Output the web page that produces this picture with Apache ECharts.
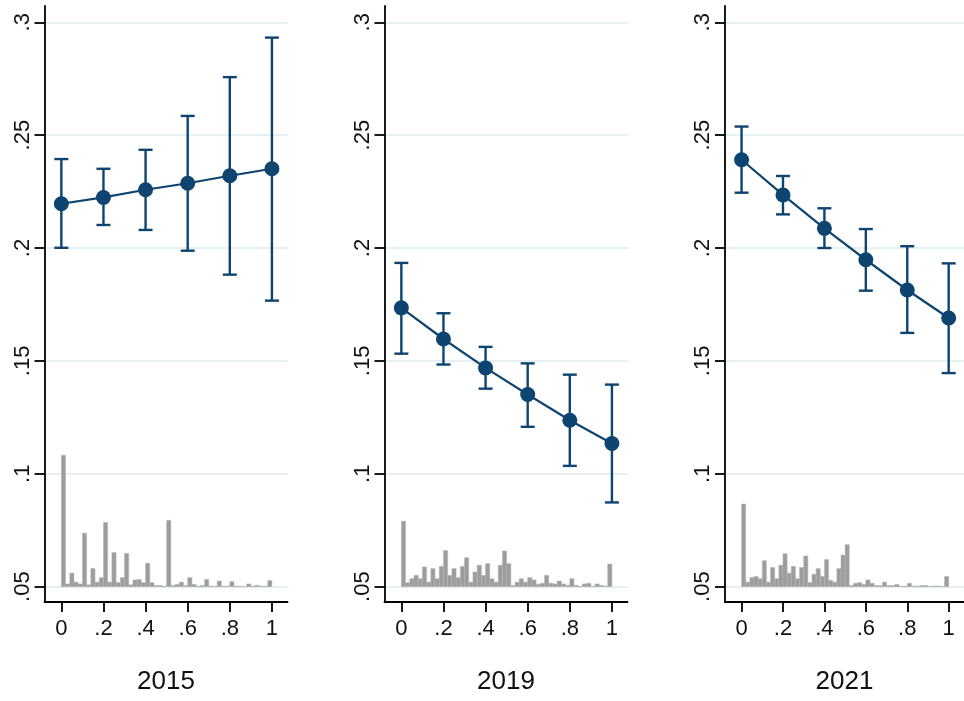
<!DOCTYPE html>
<html>
<head>
<meta charset="utf-8">
<script src="https://cdn.jsdelivr.net/npm/echarts@6/dist/echarts.min.js"></script>
<style>
html, body { margin: 0; padding: 0; background: #fff; }
#chart { width: 964px; height: 701px; }
</style>
</head>
<body>
<div id="chart"></div>
<script>
// panel titles
const years = ['2015', '2019', '2021'];

// x positions of the estimates and axis ticks
const xPoints = [0, 0.2, 0.4, 0.6, 0.8, 1];
const xTicks = [0, 0.2, 0.4, 0.6, 0.8, 1];
const yTicks = [0.05, 0.1, 0.15, 0.2, 0.25, 0.3];

// point estimates and confidence bounds
const est2015 = [0.2196, 0.2224, 0.2258, 0.2287, 0.2320, 0.2351];
const lo2015  = [0.2001, 0.2102, 0.2080, 0.1988, 0.1882, 0.1767];
const hi2015  = [0.2394, 0.2351, 0.2435, 0.2585, 0.2757, 0.2932];

const est2019 = [0.1735, 0.1597, 0.1469, 0.1351, 0.1237, 0.1134];
const lo2019  = [0.1532, 0.1484, 0.1377, 0.1208, 0.1035, 0.0873];
const hi2019  = [0.1934, 0.1711, 0.1562, 0.1489, 0.1439, 0.1395];

const est2021 = [0.2391, 0.2235, 0.2087, 0.1948, 0.1814, 0.1690];
const lo2021  = [0.2245, 0.2149, 0.2000, 0.1811, 0.1624, 0.1446];
const hi2021  = [0.2538, 0.2319, 0.2176, 0.2084, 0.2008, 0.1932];

// histogram of the x variable (bin width .02), drawn as bar tops above .05
const histBase = 0.05;
const histBin = 0.02;
const hist2015 = [
  0.1082, 0.0512, 0.0560, 0.0520, 0.0512, 0.0737, 0.0508, 0.0581, 0.0520, 0.0540,
  0.0785, 0.0520, 0.0651, 0.0518, 0.0540, 0.0647, 0.0508, 0.0530, 0.0532, 0.0518,
  0.0604, 0.0518, 0.0505, 0.0505, 0.0502, 0.0794, 0.0505, 0.0510, 0.0520, 0.0505,
  0.0540, 0.0510, 0.0502, 0.0505, 0.0532, 0.0502, 0.0502, 0.0525, 0.0502, 0.0502,
  0.0522, 0.0502, 0.0502, 0.0500, 0.0512, 0.0502, 0.0506, 0.0502, 0.0502, 0.0527
];
const hist2019 = [
  0.0790, 0.0518, 0.0535, 0.0550, 0.0535, 0.0587, 0.0520, 0.0580, 0.0535, 0.0590,
  0.0660, 0.0550, 0.0580, 0.0540, 0.0590, 0.0628, 0.0520, 0.0565, 0.0595, 0.0550,
  0.0602, 0.0535, 0.0520, 0.0595, 0.0658, 0.0602, 0.0505, 0.0520, 0.0535, 0.0520,
  0.0540, 0.0530, 0.0510, 0.0515, 0.0550, 0.0515, 0.0512, 0.0525, 0.0512, 0.0506,
  0.0535, 0.0506, 0.0502, 0.0512, 0.0515, 0.0502, 0.0512, 0.0506, 0.0502, 0.0600
];
const hist2021 = [
  0.0866, 0.0520, 0.0540, 0.0545, 0.0535, 0.0615, 0.0520, 0.0585, 0.0535, 0.0595,
  0.0646, 0.0560, 0.0590, 0.0535, 0.0585, 0.0636, 0.0518, 0.0555, 0.0580, 0.0545,
  0.0620, 0.0528, 0.0520, 0.0580, 0.0640, 0.0686, 0.0505, 0.0515, 0.0518, 0.0510,
  0.0530, 0.0515, 0.0505, 0.0505, 0.0520, 0.0505, 0.0505, 0.0510, 0.0502, 0.0502,
  0.0515, 0.0503, 0.0502, 0.0505, 0.0505, 0.0501, 0.0503, 0.0503, 0.0501, 0.0545
];

const panels = [
  { est: est2015, lo: lo2015, hi: hi2015, hist: hist2015 },
  { est: est2019, lo: lo2019, hi: hi2019, hist: hist2019 },
  { est: est2021, lo: lo2021, hi: hi2021, hist: hist2021 }
];

const navy = '#0e4470';
const font = '"Liberation Sans", Arial, sans-serif';
const gridLefts = [44.5, 384.5, 725];

// stata style labels: .2 instead of 0.2
function stataNum(v) {
  let s = String(Math.round(v * 1000) / 1000);
  return s.replace(/^0\./, '.');
}

let chart = echarts.init(document.getElementById('chart'));
let option = {
  animation: false,
  backgroundColor: '#fff',
  textStyle: { fontFamily: font },
  grid: [],
  xAxis: [],
  yAxis: [],
  series: []
};

panels.forEach((p, i) => {
  option.grid.push({ left: gridLefts[i], top: 6, width: 243, height: 596, containLabel: false });
  option.xAxis.push({
    type: 'value',
    gridIndex: i,
    min: -0.08,
    max: 1.074,
    name: years[i],
    nameLocation: 'middle',
    nameGap: 67,
    nameTextStyle: { fontSize: 26, color: '#111', fontFamily: font },
    axisLine: { show: true, onZero: false, lineStyle: { color: '#000', width: 1.8 } },
    axisTick: { show: true, length: 10, customValues: xTicks, lineStyle: { color: '#000', width: 1.8 } },
    axisLabel: {
      customValues: xTicks, margin: 16, fontSize: 22, color: '#111', fontFamily: font,
      formatter: v => stataNum(v)
    },
    splitLine: { show: false }
  });
  option.yAxis.push({
    type: 'value',
    gridIndex: i,
    min: 0.0432,
    max: 0.3072,
    axisLine: { show: true, onZero: false, lineStyle: { color: '#000', width: 1.8 } },
    axisTick: { show: true, length: 10, customValues: yTicks, lineStyle: { color: '#000', width: 1.8 } },
    axisLabel: {
      customValues: yTicks, rotate: 90, margin: 11, fontSize: 22, color: '#111', fontFamily: font,
      formatter: v => stataNum(v)
    },
    splitLine: { show: true, lineStyle: { color: '#e6eff1', width: 2 } }
  });

  // histogram
  option.series.push({
    type: 'custom',
    xAxisIndex: i,
    yAxisIndex: i,
    z: 1,
    silent: true,
    data: p.hist.map((h, k) => [k * histBin, h]),
    renderItem: function(params, api) {
      let x0 = api.value(0);
      let top = api.value(1);
      let a = api.coord([x0, top]);
      let b = api.coord([x0 + histBin, histBase]);
      return {
        type: 'rect',
        shape: { x: a[0], y: a[1], width: b[0] - a[0], height: b[1] - a[1] },
        style: { fill: '#9d9d9d', stroke: '#b4b4b4', lineWidth: 0.5 }
      };
    }
  });

  // confidence intervals
  option.series.push({
    type: 'custom',
    xAxisIndex: i,
    yAxisIndex: i,
    z: 2,
    silent: true,
    data: xPoints.map((x, k) => [x, p.lo[k], p.hi[k]]),
    renderItem: function(params, api) {
      let x = api.value(0);
      let pl = api.coord([x, api.value(1)]);
      let ph = api.coord([x, api.value(2)]);
      let hw = 7;
      let st = { stroke: navy, lineWidth: 2.4, fill: null };
      return {
        type: 'group',
        children: [
          { type: 'line', shape: { x1: pl[0], y1: pl[1], x2: ph[0], y2: ph[1] }, style: st },
          { type: 'line', shape: { x1: ph[0] - hw, y1: ph[1], x2: ph[0] + hw, y2: ph[1] }, style: st },
          { type: 'line', shape: { x1: pl[0] - hw, y1: pl[1], x2: pl[0] + hw, y2: pl[1] }, style: st }
        ]
      };
    }
  });

  // point estimates
  option.series.push({
    type: 'line',
    xAxisIndex: i,
    yAxisIndex: i,
    z: 3,
    data: xPoints.map((x, k) => [x, p.est[k]]),
    symbol: 'circle',
    symbolSize: 15,
    itemStyle: { color: navy },
    lineStyle: { color: navy, width: 2.2 }
  });
});

chart.setOption(option);
</script>
</body>
</html>
